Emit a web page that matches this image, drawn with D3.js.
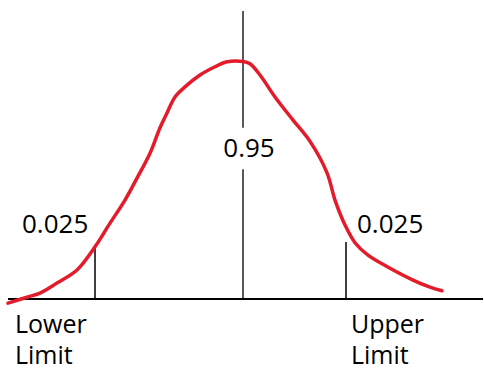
<!DOCTYPE html>
<html>
<head>
<meta charset="utf-8">
<script src="https://cdn.jsdelivr.net/npm/d3@7"></script>
<style>
  body { margin: 0; background: #fff; }
  text { font-family: "Open Sans", "Noto Sans", sans-serif; fill: #000; }
</style>
</head>
<body>
<div id="chart"></div>
<script>
'use strict';

// hand drawn bell curve, x in z units, y as density
const curveZ = [-4.70, -4.32, -4.06, -3.72, -3.32, -2.96, -2.66, -2.36, -2.12, -1.86, -1.66, -1.52,
    -1.36, -1.16, -0.86, -0.56, -0.34, 0.00, 0.14, 0.34, 0.64, 1.00, 1.34, 1.68, 1.84,
    2.04, 2.24, 2.50, 2.94, 3.40, 3.74, 3.98];
const curveDensity = [-0.007, 0.003, 0.010, 0.027, 0.049, 0.088, 0.128, 0.167, 0.204, 0.246, 0.289, 0.314,
    0.341, 0.358, 0.378, 0.392, 0.400, 0.401, 0.397, 0.378, 0.341, 0.302, 0.266, 0.213, 0.167,
    0.125, 0.095, 0.074, 0.052, 0.032, 0.020, 0.014];

const limitNames = ['Lower', 'Upper'];
const limitZ = [-2.96, 2.06];
const limitTop = [0.088, 0.096];
const tailLabels = ['0.025', '0.025'];
const centerLabel = '0.95';
const centerTop = 0.486;

const width = 484, height = 371;

const svg = d3.select('#chart')
    .append('svg')
    .attr('width', width)
    .attr('height', height);

const x = d3.scaleLinear().domain([-4.7, 4.8]).range([8, 483]);
const y = d3.scaleLinear().domain([0, 0.4]).range([299, 62]);

// centre line, broken around the label
svg.append('line')
    .attr('x1', x(0)).attr('x2', x(0))
    .attr('y1', y(centerTop)).attr('y2', y(0.289))
    .attr('stroke', '#000').attr('stroke-width', 1.3);
svg.append('line')
    .attr('x1', x(0)).attr('x2', x(0))
    .attr('y1', y(0.219)).attr('y2', y(0))
    .attr('stroke', '#000').attr('stroke-width', 1.3);

svg.append('text')
    .attr('x', x(0) + 6)
    .attr('y', 157)
    .attr('text-anchor', 'middle')
    .attr('font-size', 26)
    .text(centerLabel);

// limit markers
svg.selectAll('.limit')
    .data(limitZ)
    .enter().append('line')
    .attr('class', 'limit')
    .attr('x1', d => x(d)).attr('x2', d => x(d))
    .attr('y1', (d, i) => y(limitTop[i])).attr('y2', y(0))
    .attr('stroke', '#000').attr('stroke-width', 1.5);

// baseline
svg.append('line')
    .attr('x1', x.range()[0]).attr('x2', x.range()[1])
    .attr('y1', y(0)).attr('y2', y(0))
    .attr('stroke', '#000').attr('stroke-width', 2);

// tail probabilities
svg.selectAll('.tail')
    .data(tailLabels)
    .enter().append('text')
    .attr('class', 'tail')
    .attr('x', (d, i) => i === 0 ? 22 : 357)
    .attr('y', 233)
    .attr('font-size', 26)
    .text(d => d);

// limit names
limitNames.forEach((name, i) => {
    const tx = i === 0 ? 15 : 351;
    svg.append('text')
        .attr('x', tx).attr('y', 333)
        .attr('font-size', 25)
        .text(name);
    svg.append('text')
        .attr('x', tx).attr('y', 364)
        .attr('font-size', 25)
        .text('Limit');
});

// the curve
const line = d3.line()
    .x(d => x(d[0]))
    .y(d => y(d[1]))
    .curve(d3.curveCatmullRom);

svg.append('path')
    .datum(d3.zip(curveZ, curveDensity))
    .attr('d', line)
    .attr('fill', 'none')
    .attr('stroke', '#e41b2a')
    .attr('stroke-width', 3.5)
    .attr('stroke-linecap', 'round')
    .attr('stroke-linejoin', 'round');
</script>
</body>
</html>
